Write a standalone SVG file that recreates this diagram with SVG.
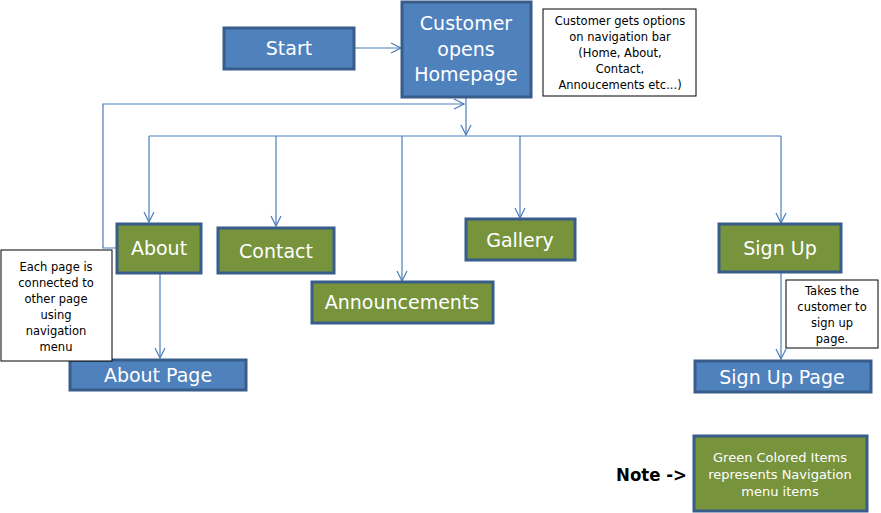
<svg xmlns="http://www.w3.org/2000/svg" width="881" height="513" viewBox="0 0 881 513">
<defs>
<marker id="arr" viewBox="0 0 12 12" refX="11" refY="6" markerWidth="12" markerHeight="12" markerUnits="userSpaceOnUse" orient="auto">
<polyline points="1,1 11,6 1,11" fill="none" stroke="#4A7EBB" stroke-width="1.2"/>
</marker>
<style>
.blue{fill:#4F81BD;stroke:#385D8A;stroke-width:3}
.green{fill:#77933C;stroke:#385D8A;stroke-width:3}
.note{fill:#fff;stroke:#000;stroke-width:1}
.t{font-family:"DejaVu Sans",Verdana,sans-serif;font-size:19px;fill:#fff;text-anchor:middle}
.s{font-family:"DejaVu Sans",Verdana,sans-serif;font-size:11.5px;fill:#000;text-anchor:middle}
.g{font-family:"DejaVu Sans",Verdana,sans-serif;font-size:13px;fill:#fff;text-anchor:middle}
.c{fill:none;stroke:#4A7EBB;stroke-width:1.2}
</style>
</defs>
<rect width="881" height="513" fill="#fff"/>
<g id="connectors">
<line class="c" x1="354" y1="48" x2="401" y2="48" marker-end="url(#arr)"/>
<line class="c" x1="466" y1="97" x2="466" y2="135" marker-end="url(#arr)"/>
<polyline class="c" points="117,248 103,248 103,104 464,104" marker-end="url(#arr)"/>
<line class="c" x1="149" y1="136" x2="781" y2="136"/>
<line class="c" x1="149" y1="136" x2="149" y2="222" marker-end="url(#arr)"/>
<line class="c" x1="276" y1="136" x2="276" y2="226" marker-end="url(#arr)"/>
<line class="c" x1="402" y1="136" x2="402" y2="281" marker-end="url(#arr)"/>
<line class="c" x1="520" y1="136" x2="520" y2="218" marker-end="url(#arr)"/>
<line class="c" x1="781" y1="136" x2="781" y2="223" marker-end="url(#arr)"/>
<line class="c" x1="160" y1="273" x2="160" y2="358" marker-end="url(#arr)"/>
<line class="c" x1="781" y1="272" x2="781" y2="359" marker-end="url(#arr)"/>
</g>
<g id="start"><rect class="blue" x="224" y="28" width="130" height="41"/><text class="t" x="289" y="55">Start</text></g>
<g id="homepage"><rect class="blue" x="402" y="2" width="129" height="95"/>
<text class="t" x="466" y="30">Customer</text><text class="t" x="466" y="56">opens</text><text class="t" x="466" y="81">Homepage</text></g>
<g id="note-nav"><rect class="note" x="543" y="9" width="153" height="87"/>
<text class="s" x="620" y="25">Customer gets options</text>
<text class="s" x="620" y="41">on navigation  bar</text>
<text class="s" x="620" y="57">(Home, About,</text>
<text class="s" x="620" y="73">Contact,</text>
<text class="s" x="620" y="89">Annoucements etc...)</text></g>
<g id="about"><rect class="green" x="117" y="224" width="84" height="49"/><text class="t" x="159" y="255">About</text></g>
<g id="contact"><rect class="green" x="218" y="228" width="116" height="45"/><text class="t" x="276" y="258">Contact</text></g>
<g id="announcements"><rect class="green" x="312" y="282" width="181" height="41"/><text class="t" x="402" y="309">Announcements</text></g>
<g id="gallery"><rect class="green" x="466" y="219" width="109" height="41"/><text class="t" x="520" y="247">Gallery</text></g>
<g id="signup"><rect class="green" x="719" y="224" width="122" height="48"/><text class="t" x="780" y="255">Sign Up</text></g>
<g id="aboutpage"><rect class="blue" x="70" y="360" width="176" height="30"/><text class="t" x="158" y="382">About Page</text></g>
<g id="signuppage"><rect class="blue" x="695" y="361" width="176" height="31"/><text class="t" x="782" y="384">Sign Up Page</text></g>
<g id="note-each"><rect class="note" x="1" y="250" width="111" height="111"/>
<text class="s" x="56" y="271">Each page is</text>
<text class="s" x="56" y="287">connected to</text>
<text class="s" x="56" y="303">other page</text>
<text class="s" x="56" y="319">using</text>
<text class="s" x="56" y="335">navigation</text>
<text class="s" x="56" y="351">menu</text></g>
<g id="note-signup"><rect class="note" x="786" y="280" width="92" height="68"/>
<text class="s" x="832" y="295">Takes the</text>
<text class="s" x="832" y="311">customer to</text>
<text class="s" x="832" y="327">sign up</text>
<text class="s" x="832" y="343">page.</text></g>
<g id="legend">
<text x="616" y="481" font-family="DejaVu Sans,Verdana,sans-serif" font-size="18" font-weight="bold" fill="#000" textLength="71" lengthAdjust="spacingAndGlyphs">Note -&gt;</text>
<rect class="green" x="694" y="436" width="173" height="75"/>
<text class="g" x="780" y="462">Green Colored  Items</text>
<text class="g" x="780" y="479">represents Navigation</text>
<text class="g" x="780" y="496">menu items</text></g>
</svg>
